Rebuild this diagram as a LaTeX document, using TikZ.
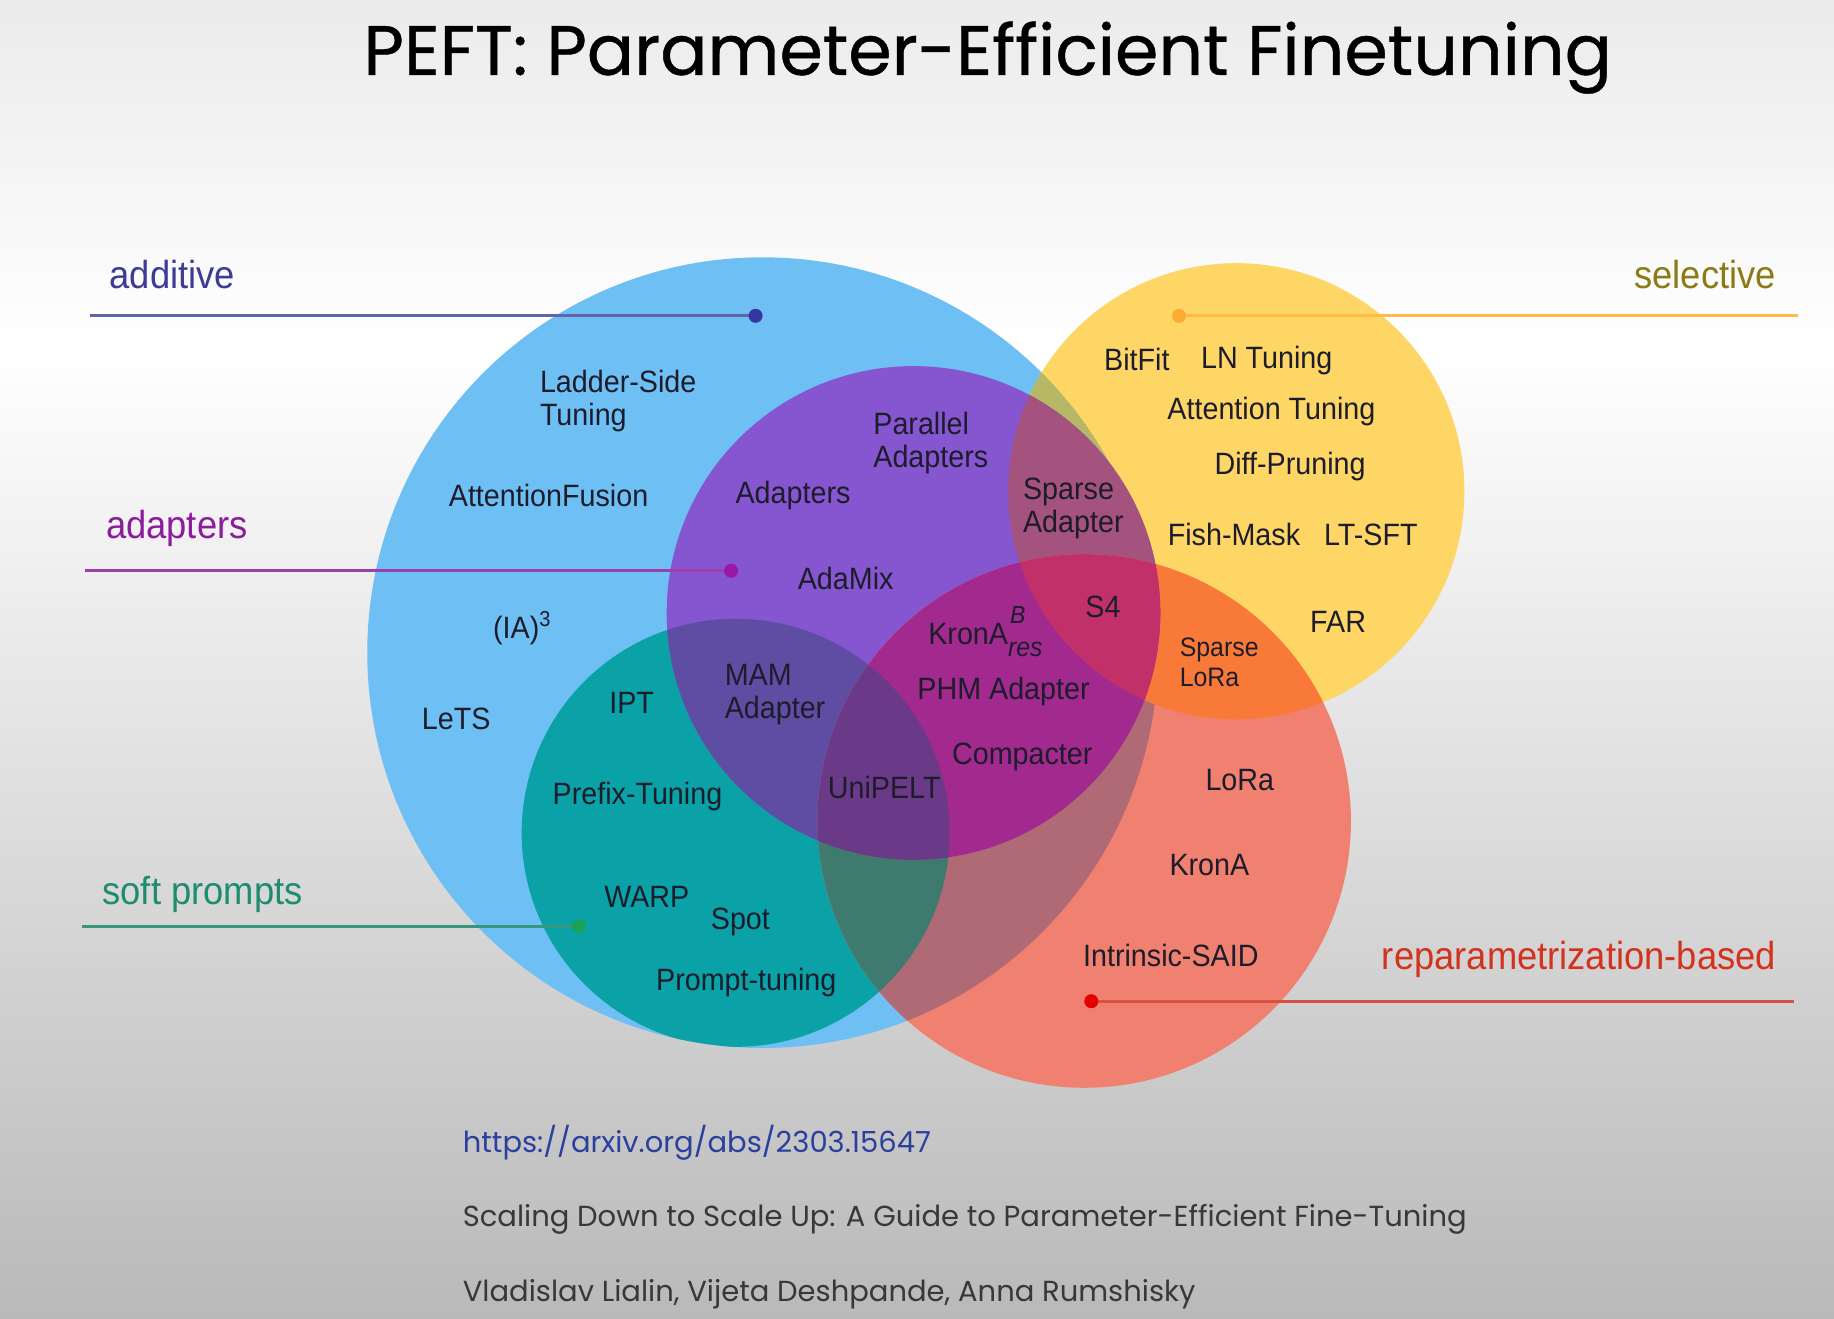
\documentclass[tikz,border=0pt]{standalone}
\usepackage{fontspec}
\setmainfont{Liberation Sans}[FakeStretch=0.93]
\newfontfamily\popfont{Poppins}
\newfontfamily\popheavy{Poppins}[FakeBold=0.6]
\definecolor{bgtop}{HTML}{EBEBEB}
\definecolor{bgbot}{HTML}{B9B9B9}
\definecolor{cblue}{HTML}{6EC0F4}
\definecolor{cyellow}{HTML}{FDD666}
\definecolor{cteal}{HTML}{0AA2A6}
\definecolor{cpurple}{HTML}{8656D0}
\definecolor{cred}{HTML}{F08070}
\definecolor{cyb}{HTML}{B7B865}
\definecolor{cpy}{HTML}{A4527E}
\definecolor{cpt}{HTML}{5F4CA3}
\definecolor{crb}{HTML}{B06A75}
\definecolor{cry}{HTML}{F97A38}
\definecolor{crp}{HTML}{A22A8E}
\definecolor{crt}{HTML}{3E7A6E}
\definecolor{crpy}{HTML}{C2306A}
\definecolor{crpt}{HTML}{6A3A88}
\definecolor{ctext}{HTML}{1C1C2A}
\definecolor{tadd}{HTML}{3C3C96}
\definecolor{tadp}{HTML}{8C1C9C}
\definecolor{tsoft}{HTML}{1E8C6E}
\definecolor{tsel}{HTML}{8C7A14}
\definecolor{trep}{HTML}{D2321E}
\definecolor{turl}{HTML}{2B3F9E}
\tikzset{
  lbl/.style={font=\fontsize{7.5}{8}\selectfont, text=ctext, inner sep=0pt, align=left},
  grp/.style={font=\fontsize{9.5}{11}\selectfont, inner sep=0pt},
  lead/.style={line width=0.75pt},
  ref/.style={font=\popfont\fontsize{7.05}{8.5}\selectfont, inner sep=0pt, anchor=base west},
}
\begin{document}
\begin{tikzpicture}[x=0.01cm,y=-0.01cm]
\useasboundingbox (0,0) rectangle (1568,1127);
\shade[top color=bgtop, bottom color=white] (0,0) rectangle (1568,300);
\shade[top color=white, bottom color=bgbot] (0,300) rectangle (1568,1127);

\coordinate (B) at (652,558);
\coordinate (Y) at (1057,420);
\coordinate (T) at (629,712);
\coordinate (P) at (781,524);
\coordinate (R) at (927,702);
\def\rB{338} \def\rY{195} \def\rT{183} \def\rP{211} \def\rR{228}

\fill[cblue] (B) circle[radius=\rB];
\fill[cyellow] (Y) circle[radius=\rY];
\begin{scope}
  \clip (B) circle[radius=\rB];
  \fill[cyb] (Y) circle[radius=\rY];
  \fill[cteal] (T) circle[radius=\rT];
\end{scope}
\fill[cpurple] (P) circle[radius=\rP];
\begin{scope}
  \clip (P) circle[radius=\rP];
  \fill[cpy] (Y) circle[radius=\rY];
  \fill[cpt] (T) circle[radius=\rT];
\end{scope}
\fill[cred] (R) circle[radius=\rR];
\begin{scope}
  \clip (R) circle[radius=\rR];
  \fill[crb] (B) circle[radius=\rB];
  \fill[cry] (Y) circle[radius=\rY];
  \fill[crt] (T) circle[radius=\rT];
  \fill[crp] (P) circle[radius=\rP];
  \clip (P) circle[radius=\rP];
  \fill[crpy] (Y) circle[radius=\rY];
  \fill[crpt] (T) circle[radius=\rT];
\end{scope}

% title
\node[font=\popheavy\fontsize{17}{20}\selectfont, inner sep=0pt, anchor=base west] (title) at (310,64) {PEFT: Parameter-Efficient Finetuning};

% group labels and leaders
\node[grp, text=tadd, anchor=west] (add) at (93,235) {additive};
\node[grp, text=tadp, anchor=west] (adp) at (90,452) {adapters};
\node[grp, text=tsoft, anchor=west] (soft) at (87,765) {soft prompts};
\node[grp, text=tsel, anchor=east] (sel) at (1519,235) {selective};
\node[grp, text=trep, anchor=east] (rep) at (1519,820) {reparametrization-based};

\coordinate (addS) at (77,270);  \coordinate (addD) at (646,270);
\coordinate (adpS) at (73,488);  \coordinate (adpD) at (625,488);
\coordinate (softS) at (70,792); \coordinate (softD) at (495,792);
\coordinate (selS) at (1537,270); \coordinate (selD) at (1008,270);
\coordinate (repS) at (1534,856); \coordinate (repD) at (933,856);

\draw[lead, color=tadd!80!white] (addS) -- (addD);
\fill[tadd!90!blue] (addD) circle[radius=6];
\draw[lead, color=tadp!85!white] (adpS) -- (adpD);
\fill[tadp!90!magenta] (adpD) circle[radius=6];
\draw[lead, color=tsoft!90!white] (softS) -- (softD);
\fill[tsoft!80!green] (softD) circle[radius=6];
\draw[lead, color=cyellow!70!orange] (selS) -- (selD);
\fill[cyellow!50!orange] (selD) circle[radius=6];
\draw[lead, color=trep!85!white] (repS) -- (repD);
\fill[red!90!black] (repD) circle[radius=6];

% additive
\node[lbl, anchor=west] (lst) at (461,343) {Ladder-Side\\Tuning};
\node[lbl] (afu) at (469,424) {AttentionFusion};
\node[lbl] (ia3) at (447,537) {(IA)\textsuperscript{3}};
\node[lbl] (lets) at (390,615) {LeTS};
% adapters
\node[lbl] (ada) at (678,424) {Adapters};
\node[lbl, anchor=west] (par) at (746,379) {Parallel\\Adapters};
\node[lbl] (amix) at (723,495) {AdaMix};
\node[lbl, anchor=west] (spa) at (874,435) {Sparse\\Adapter};
\node[lbl] (s4) at (943,519) {S4};
\node[lbl, anchor=west] (kres) at (793,540) {KronA\makebox[0pt][l]{\hspace{0.5pt}\raisebox{1.3ex}{\fontsize{6}{6}\selectfont\itshape B}}\raisebox{-0.7ex}{\fontsize{6.5}{6.5}\selectfont\itshape res}};
\node[lbl] (phm) at (858,591) {PHM Adapter};
\node[lbl] (comp) at (874,647) {Compacter};
\node[lbl] (upelt) at (756,673) {UniPELT};
\node[lbl, anchor=west] (mam) at (619,594) {MAM\\Adapter};
% soft prompts
\node[lbl] (ipt) at (540,601) {IPT};
\node[lbl] (pfx) at (545,681) {Prefix-Tuning};
\node[lbl] (warp) at (553,767) {WARP};
\node[lbl] (spot) at (633,788) {Spot};
\node[lbl] (ptun) at (638,840) {Prompt-tuning};
% selective
\node[lbl] (bfit) at (972,307) {BitFit};
\node[lbl] (lnt) at (1083,308) {LN Tuning};
\node[lbl] (att) at (1087,352) {Attention Tuning};
\node[lbl] (diff) at (1103,399) {Diff-Pruning};
\node[lbl] (fish) at (1055,457) {Fish-Mask};
\node[lbl] (ltsft) at (1172,457) {LT-SFT};
\node[lbl] (far) at (1144,532) {FAR};
\node[lbl, anchor=west, font=\fontsize{6.5}{7.2}\selectfont] (slora) at (1008,566) {Sparse\\LoRa};
% reparametrization
\node[lbl] (lora) at (1060,667) {LoRa};
\node[lbl] (krona) at (1034,740) {KronA};
\node[lbl] (isaid) at (1001,817) {Intrinsic-SAID};

% reference
\node[ref, text=turl] (url) at (395,985) {https://arxiv.org/abs/2303.15647};
\node[ref, text=black!78] (paper) at (395,1049) {Scaling Down to Scale Up: A Guide to Parameter-Efficient Fine-Tuning};
\node[ref, text=black!78] (auth) at (395,1113) {Vladislav Lialin, Vijeta Deshpande, Anna Rumshisky};
\end{tikzpicture}
\end{document}
